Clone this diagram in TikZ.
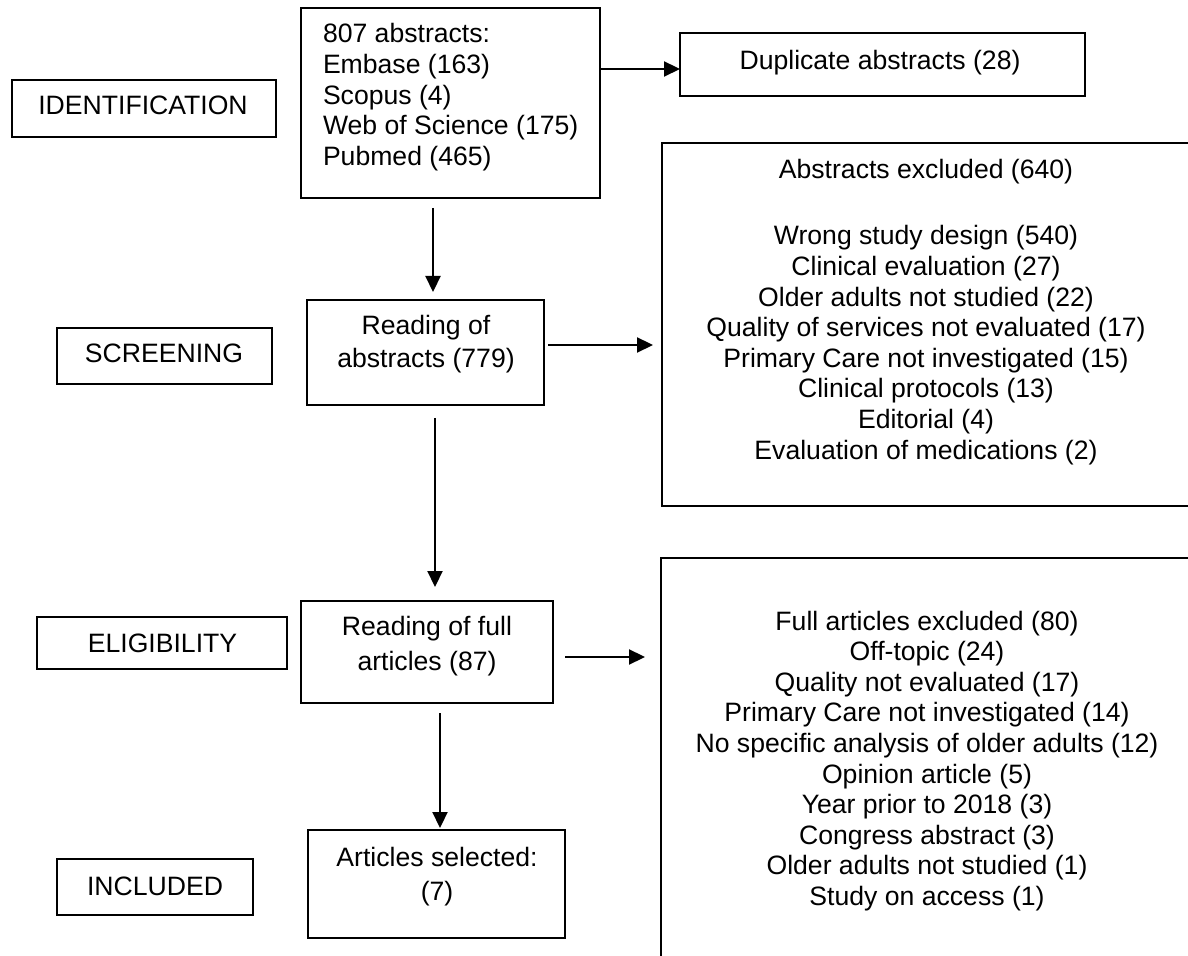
\documentclass[tikz,border=0pt]{standalone}
\usepackage{fontspec}
\setmainfont{Liberation Sans}
\usetikzlibrary{arrows.meta}
\newcommand\topstrut{\rule{0pt}{11pt}}
\begin{document}
\begin{tikzpicture}[x=0.5pt, y=-0.5pt,
  bx/.style={draw, line width=1.2pt, rectangle, inner sep=0pt, outer sep=0pt},
  lbl/.style={inner sep=0pt, outer sep=0pt, font=\fontsize{13.3}{15.3}\selectfont},
  arr/.style={line width=1.1pt, -{Triangle[length=8pt,width=7.5pt]}}]
\useasboundingbox (0,0) rectangle (1188,956);
\clip (0,0) rectangle (1188,956);

% stage labels
\node[bx, minimum width=132pt, minimum height=28.5pt] (ident) at (144,108.5) {};
\node[lbl, anchor=base] (identT) at (143,115) {IDENTIFICATION};
\node[bx, minimum width=107.5pt, minimum height=28pt] (screen) at (164.5,356) {};
\node[lbl, anchor=base] (screenT) at (164,363) {SCREENING};
\node[bx, minimum width=125pt, minimum height=26pt] (elig) at (162,643) {};
\node[lbl, anchor=base] (eligT) at (162.5,652) {ELIGIBILITY};
\node[bx, minimum width=98pt, minimum height=28pt] (incl) at (155,887) {};
\node[lbl, anchor=base] (inclT) at (155,895) {INCLUDED};

% main flow boxes
\node[bx, minimum width=149.5pt, minimum height=95pt] (b807) at (450.5,103) {};
\node[lbl, anchor=north west, align=left] (b807T) at (323,21)
  {\topstrut 807 abstracts:\\Embase (163)\\Scopus (4)\\Web of Science (175)\\Pubmed (465)};

\node[bx, minimum width=202.5pt, minimum height=31.5pt] (dup) at (882.5,64.5) {};
\node[lbl, anchor=base] (dupT) at (880,70) {Duplicate abstracts (28)};

\node[bx, minimum width=118.5pt, minimum height=52.5pt] (abs) at (425.5,352.5) {};
\node[lbl, anchor=north, align=center, font=\fontsize{13.3}{16.5}\selectfont] (absT) at (426,313)
  {\topstrut Reading of\\abstracts (779)};

\node[bx, minimum width=265pt, minimum height=181.5pt] (excl) at (927,324.5) {};
\node[lbl, anchor=north, align=center] (exclT) at (926,157)
  {\topstrut Abstracts excluded (640)\\[17.7pt]
   Wrong study design (540)\\
   Clinical evaluation (27)\\
   Older adults not studied (22)\\
   Quality of services not evaluated (17)\\
   Primary Care not investigated (15)\\
   Clinical protocols (13)\\
   Editorial (4)\\
   Evaluation of medications (2)};

\node[bx, minimum width=126pt, minimum height=51pt] (full) at (427,652) {};
\node[lbl, anchor=north, align=center, font=\fontsize{13.3}{17.5}\selectfont] (fullT) at (427,613)
  {\topstrut Reading of full\\articles (87)};

\node[bx, minimum width=265.5pt, minimum height=201pt] (fexcl) at (926.5,759) {};
\node[lbl, anchor=north, align=center] (fexclT) at (927,608)
  {\topstrut Full articles excluded (80)\\
   Off-topic (24)\\
   Quality not evaluated (17)\\
   Primary Care not investigated (14)\\
   No specific analysis of older adults (12)\\
   Opinion article (5)\\
   Year prior to 2018 (3)\\
   Congress abstract (3)\\
   Older adults not studied (1)\\
   Study on access (1)};

\node[bx, minimum width=128.5pt, minimum height=54pt] (sel) at (436.5,884) {};
\node[lbl, anchor=north, align=center, font=\fontsize{13.3}{17}\selectfont] (selT) at (437,844)
  {\topstrut Articles selected:\\(7)};

% connector guides
\coordinate (y69) at (0,69);
\coordinate (x433) at (433,0);
\coordinate (y345) at (0,345);
\coordinate (x435) at (435,0);
\coordinate (y657) at (0,657);
\coordinate (x440) at (440,0);

% connectors
\draw[arr] (b807.east |- y69) -- (dup.west |- y69);
\draw[arr, shorten <=5pt, shorten >=4pt] (b807.south -| x433) -- (abs.north -| x433);
\draw[arr, shorten <=2pt, shorten >=4.5pt] (abs.east |- y345) -- (excl.west |- y345);
\draw[arr, shorten <=6.5pt, shorten >=7pt] (abs.south -| x435) -- (full.north -| x435);
\draw[arr, shorten <=6pt, shorten >=8pt] (full.east |- y657) -- (fexcl.west |- y657);
\draw[arr, shorten <=5pt, shorten >=1pt] (full.south -| x440) -- (sel.north -| x440);
\end{tikzpicture}
\end{document}
